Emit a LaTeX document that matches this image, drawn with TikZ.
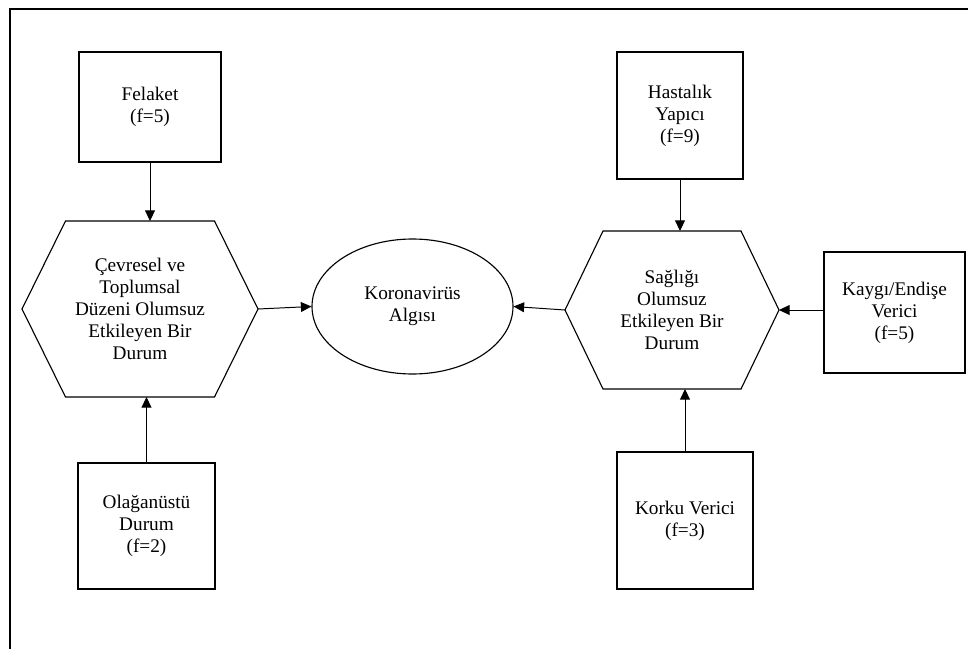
\documentclass[tikz,border=0pt]{standalone}
\usepackage{fontspec}
\setmainfont{Liberation Serif}
\usetikzlibrary{arrows.meta,shapes.geometric,calc}

\begin{document}
\begin{tikzpicture}[scale=1.0,
  yazi/.style={align=center,font=\fontsize{13.7}{15.7}\selectfont},
  kutu/.style={draw,line width=0.9pt,inner sep=0pt,yazi},
  altigen/.style={line width=0.8pt},
  ok/.style={line width=0.7pt,-{Triangle[length=7.5pt,width=7pt]}}]
\useasboundingbox (0,0) rectangle (24.2,-16.2);
\clip (0,0) rectangle (24.2,-16.2);
\draw [line width=1pt] (0.25,-17) rectangle (25,-0.225);
% kutular
\node[kutu,minimum width=3.55cm,minimum height=2.75cm] (felaket) at (3.75,-2.675) {Felaket\\(f=5)};
\node[kutu,minimum width=3.425cm,minimum height=3.15cm] (olagan) at (3.6625,-13.15) {Olağanüstü\\Durum\\(f=2)};
\node[kutu,minimum width=3.15cm,minimum height=3.175cm] (hastalik) at (17.0,-2.8875) {Hastalık\\Yapıcı\\(f=9)};
\node[kutu,minimum width=3.525cm,minimum height=3.025cm] (kaygi) at (22.3625,-7.8125) {Kaygı/Endişe\\Verici\\(f=5)};
\node[kutu,minimum width=3.4cm,minimum height=3.425cm] (korku) at (17.125,-13.0125) {Korku Verici\\(f=3)};
% orta
\node[draw,ellipse,line width=0.8pt,inner sep=0pt,yazi,minimum width=5.025cm,minimum height=3.375cm] (algi) at (10.3125,-7.6625) {Koronavirüs\\Algısı};
% altigenler
\node[yazi] (cevre) at (3.5,-7.725) {Çevresel ve\\Toplumsal\\Düzeni Olumsuz\\Etkileyen Bir\\Durum};
\draw [altigen] ($(cevre)+(-2.95,0)$) coordinate (cevreW) -- ++(1.0875,2.2) coordinate (cevreN)
  -- ++(3.725,0) -- ++(1.0875,-2.2) coordinate (cevreE) -- ++(-1.0875,-2.2)
  -- ++(-3.725,0) coordinate (cevreS) -- cycle;
\node[yazi] (saglik) at (16.8,-7.75) {Sağlığı\\Olumsuz\\Etkileyen Bir\\Durum};
\draw [altigen] ($(saglik)+(-2.675,0)$) coordinate (saglikW) -- ++(0.95,1.975) coordinate (saglikN)
  -- ++(3.45,0) -- ++(0.95,-1.975) coordinate (saglikE) -- ++(-0.95,-1.975)
  -- ++(-3.45,0) coordinate (saglikS) -- cycle;
% oklar
\draw [ok] (felaket.south) -- (felaket.south |- cevreN);
\draw [ok] (olagan.north) -- (olagan.north |- cevreS);
\draw [ok] (hastalik.south) -- (hastalik.south |- saglikN);
\draw [ok] (korku.north) -- (korku.north |- saglikS);
\draw [ok] (kaygi.west |- saglikE) -- (saglikE);
\draw [ok] (cevreE) -- (algi.west);
\draw [ok] (saglikW) -- (algi.east);
\end{tikzpicture}
\end{document}
